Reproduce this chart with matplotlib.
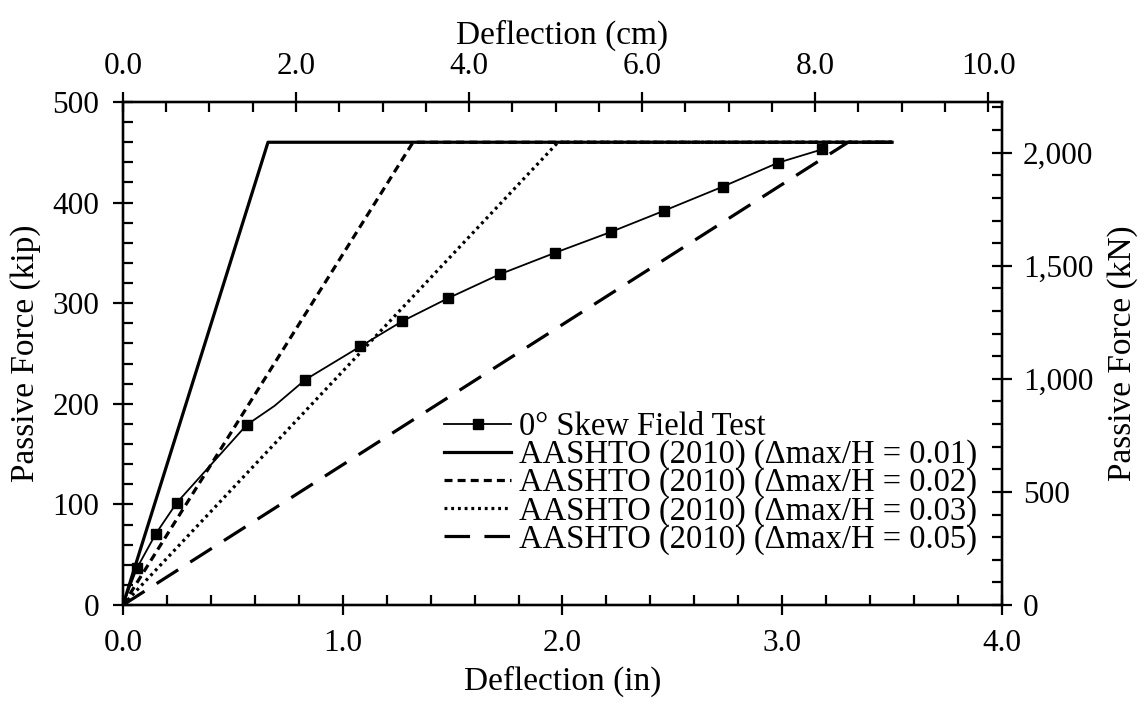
import numpy as np
import matplotlib.pyplot as plt
from matplotlib.ticker import MultipleLocator, FuncFormatter

plt.rcParams['font.family'] = ['Liberation Serif', 'DejaVu Serif']
plt.rcParams['font.size'] = 22.5

# field test data (in, kip)
test_x = [0.0, 0.064, 0.149, 0.244, 0.563, 0.69, 0.83, 1.08, 1.27, 1.48, 1.714, 1.967, 2.22, 2.463, 2.729, 2.982, 3.183]
test_y = [0.0, 36.8, 70.6, 101.4, 179.0, 198.0, 224.0, 257.0, 282.0, 305.0, 328.7, 350.2, 370.8, 392.0, 415.8, 439.7, 453.0]
test_marked = [1, 2, 3, 4, 6, 7, 8, 9, 10, 11, 12, 13, 14, 15, 16]

# AASHTO (2010) curves
aashto_x = {
    '0.01': [0.0, 0.66, 3.5],
    '0.02': [0.0, 1.32, 3.5],
    '0.03': [0.0, 1.98, 3.5],
    '0.05': [0.0, 3.30, 3.5],
}
aashto_y = [0.0, 460.0, 460.0]
aashto_style = {
    '0.01': '-',
    '0.02': (0, (2.5, 1.6)),
    '0.03': (0, (0.9, 1.2)),
    '0.05': (0, (8, 4.5)),
}

fig = plt.figure(figsize=(11.48, 7.04), dpi=100)
ax = fig.add_axes([0.1071, 0.1406, 0.7657, 0.7145])

ax.plot(test_x, test_y, color='black', lw=1.3, marker='s', ms=7,
        markevery=test_marked, label='0° Skew Field Test', zorder=5)
for k in ['0.01', '0.02', '0.03', '0.05']:
    ax.plot(aashto_x[k], aashto_y, color='black', lw=2.3, ls=aashto_style[k],
            label='AASHTO (2010) (Δmax/H = %s)' % k)

ax.set_xlim(0, 4)
ax.set_ylim(0, 500)
ax.xaxis.set_major_locator(MultipleLocator(1.0))
ax.xaxis.set_minor_locator(MultipleLocator(0.2))
ax.yaxis.set_major_locator(MultipleLocator(100))
ax.yaxis.set_minor_locator(MultipleLocator(20))
ax.xaxis.set_major_formatter(FuncFormatter(lambda v, p: '%.1f' % v))
ax.set_xlabel('Deflection (in)', fontsize=24, labelpad=6)
ax.set_ylabel('Passive Force (kip)', fontsize=24, labelpad=8)

# secondary axes
axr = ax.twinx()
axr.set_ylim(0, 500 * 4.448)
axr.yaxis.set_major_locator(MultipleLocator(500))
axr.yaxis.set_minor_locator(MultipleLocator(100))
axr.yaxis.set_major_formatter(FuncFormatter(lambda v, p: '{:,.0f}'.format(v)))
axr.set_ylabel('Passive Force (kN)', fontsize=24, labelpad=10)

axt = ax.twiny()
axt.set_xlim(0, 4 * 2.54)
axt.xaxis.set_major_locator(MultipleLocator(2.0))
axt.xaxis.set_minor_locator(MultipleLocator(0.5))
axt.xaxis.set_major_formatter(FuncFormatter(lambda v, p: '%.1f' % v))
axt.set_xlabel('Deflection (cm)', fontsize=24, labelpad=6)

for a in (ax, axr, axt):
    for s in a.spines.values():
        s.set_linewidth(1.6)
    a.tick_params(which='major', direction='inout', length=14, width=1.6)
    a.tick_params(which='minor', direction='in', length=7, width=1.6)
ax.tick_params(top=False, right=False)
axr.tick_params(axis='y', which='both', left=False)
axt.tick_params(axis='x', which='both', bottom=False)
ax.tick_params(axis='x', which='major', pad=10)
ax.tick_params(axis='y', which='major', pad=10)
axr.tick_params(axis='y', which='major', pad=8)
axt.tick_params(axis='x', which='major', pad=8)

leg = ax.legend(loc='lower right', bbox_to_anchor=(0.972, 0.10), frameon=False,
                fontsize=23.5, handlelength=2.05, handletextpad=0.25,
                labelspacing=-0.08, borderpad=0, borderaxespad=0)

fig.savefig('out.png', dpi=100)
